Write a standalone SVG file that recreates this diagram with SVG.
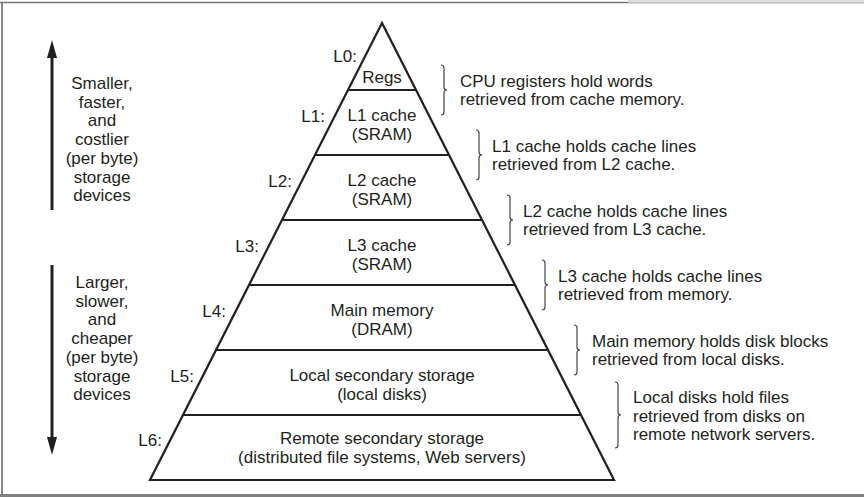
<svg xmlns="http://www.w3.org/2000/svg" width="864" height="497" viewBox="0 0 864 497">
<defs>
<style>
text{font-family:"Liberation Sans",Arial,Helvetica,sans-serif;font-size:17px;fill:#231f20}
.c{text-anchor:middle}
.r{text-anchor:end}
.ln{stroke:#231f20;stroke-width:2.2;fill:none}
.br{stroke:#444;stroke-width:1.2;fill:none}
.ar{stroke:#231f20;stroke-width:3;fill:none}
</style>
<marker id="ah" viewBox="0 0 10 18" refX="9" refY="9" markerWidth="10" markerHeight="18" markerUnits="userSpaceOnUse" orient="auto">
<path d="M0,4 L10,9 L0,14 Z" fill="#231f20"/>
</marker>
</defs>
<rect width="864" height="497" fill="#fff"/>
<g id="frame">
<line x1="2" y1="3" x2="2" y2="495" stroke="#888" stroke-width="2"/>
<line x1="0" y1="2.5" x2="628" y2="2.5" stroke="#777" stroke-width="1.5"/>
<rect x="628" y="0" width="236" height="3" fill="#ddd"/>
<line x1="628" y1="3" x2="864" y2="3" stroke="#aaa" stroke-width="1"/>
<rect x="0" y="494" width="864" height="3" fill="#808080"/>
</g>
<g id="pyramid">
<polygon class="ln" points="382,23 150,480 614,480"/>
</g>
<g id="L0">
<text class="r" x="357" y="62">L0:</text>
<text class="c" x="382" y="83">Regs</text>
</g>
<g id="L1">
<line class="ln" x1="348" y1="90" x2="416" y2="90"/>
<text class="r" x="325" y="122">L1:</text>
<text class="c" x="382" y="121">L1 cache</text>
<text class="c" x="382" y="140">(SRAM)</text>
</g>
<g id="L2">
<line class="ln" x1="315" y1="155" x2="449" y2="155"/>
<text class="r" x="292" y="187">L2:</text>
<text class="c" x="382" y="185.5">L2 cache</text>
<text class="c" x="382" y="204.5">(SRAM)</text>
</g>
<g id="L3">
<line class="ln" x1="282" y1="220" x2="482" y2="220"/>
<text class="r" x="259" y="252">L3:</text>
<text class="c" x="382" y="250.5">L3 cache</text>
<text class="c" x="382" y="269.5">(SRAM)</text>
</g>
<g id="L4">
<line class="ln" x1="249" y1="285" x2="515" y2="285"/>
<text class="r" x="226" y="317">L4:</text>
<text class="c" x="382" y="315.5">Main memory</text>
<text class="c" x="382" y="334.5">(DRAM)</text>
</g>
<g id="L5">
<line class="ln" x1="216" y1="350" x2="548" y2="350"/>
<text class="r" x="194" y="382">L5:</text>
<text class="c" x="382" y="380.5">Local secondary storage</text>
<text class="c" x="382" y="399.5">(local disks)</text>
</g>
<g id="L6">
<line class="ln" x1="183" y1="415" x2="581" y2="415"/>
<text class="r" x="162" y="446">L6:</text>
<text class="c" x="382" y="444">Remote secondary storage</text>
<text class="c" x="382" y="463">(distributed file systems, Web servers)</text>
</g>
<g id="note0">
<path class="br" d="M441,65 Q444,65 444,68 L444,87 Q444,90 447,90 Q444,90 444,93 L444,112 Q444,115 441,115"/>
<text x="460" y="86.7">CPU registers hold words</text>
<text x="460" y="105">retrieved from cache memory.</text>
</g>
<g id="note1">
<path class="br" d="M476,130 Q479,130 479,133 L479,152 Q479,155 482,155 Q479,155 479,158 L479,177 Q479,180 476,180"/>
<text x="492" y="151.7">L1 cache holds cache lines</text>
<text x="492" y="170">retrieved from L2 cache.</text>
</g>
<g id="note2">
<path class="br" d="M507,195 Q510,195 510,198 L510,217 Q510,220 513,220 Q510,220 510,223 L510,242 Q510,245 507,245"/>
<text x="523" y="216.7">L2 cache holds cache lines</text>
<text x="523" y="235">retrieved from L3 cache.</text>
</g>
<g id="note3">
<path class="br" d="M542,260 Q545,260 545,263 L545,282 Q545,285 548,285 Q545,285 545,288 L545,307 Q545,310 542,310"/>
<text x="558" y="281.7">L3 cache holds cache lines</text>
<text x="558" y="300">retrieved from memory.</text>
</g>
<g id="note4">
<path class="br" d="M574,325 Q577,325 577,328 L577,347 Q577,350 580,350 Q577,350 577,353 L577,372 Q577,375 574,375"/>
<text x="592" y="346.7">Main memory holds disk blocks</text>
<text x="592" y="365">retrieved from local disks.</text>
</g>
<g id="note5">
<path class="br" d="M615,382 Q618,382 618,385 L618,412 Q618,415 621,415 Q618,415 618,418 L618,445 Q618,448 615,448"/>
<text x="633" y="403.3">Local disks hold files</text>
<text x="633" y="421.7">retrieved from disks on</text>
<text x="633" y="440">remote network servers.</text>
</g>
<g id="upper-side">
<text class="c" x="102" y="89">Smaller,</text>
<text class="c" x="102" y="107.7">faster,</text>
<text class="c" x="102" y="126.4">and</text>
<text class="c" x="102" y="145.1">costlier</text>
<text class="c" x="102" y="163.8">(per byte)</text>
<text class="c" x="102" y="182.5">storage</text>
<text class="c" x="102" y="201.2">devices</text>
</g>
<g id="lower-side">
<text class="c" x="102" y="288">Larger,</text>
<text class="c" x="102" y="306.7">slower,</text>
<text class="c" x="102" y="325.4">and</text>
<text class="c" x="102" y="344.1">cheaper</text>
<text class="c" x="102" y="362.8">(per byte)</text>
<text class="c" x="102" y="381.5">storage</text>
<text class="c" x="102" y="400.2">devices</text>
</g>
<g id="connectors">
<line class="ar" x1="52" y1="210" x2="52" y2="50"/>
<path d="M52,40 L47,58 L57,58 Z" fill="#231f20"/>
<line class="ar" x1="52" y1="265" x2="52" y2="445"/>
<path d="M52,455 L47,437 L57,437 Z" fill="#231f20"/>
</g>
</svg>
